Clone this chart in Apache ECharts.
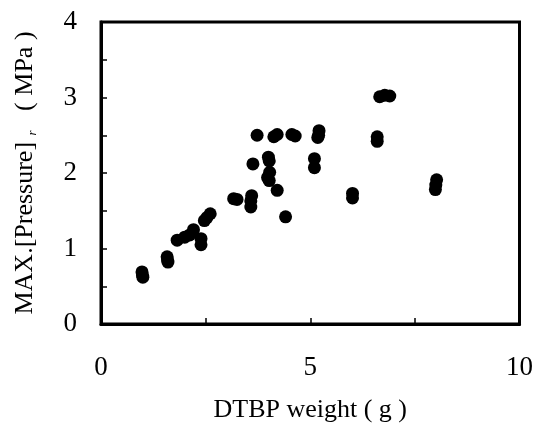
<!DOCTYPE html>
<html>
<head>
<meta charset="utf-8">
<script src="https://cdn.jsdelivr.net/npm/echarts@6/dist/echarts.min.js"></script>
<style>
html,body{margin:0;padding:0;background:#fff;}
#chart{width:536px;height:428px;}
</style>
</head>
<body>
<div id="chart"></div>
<script>
// DTBP weight (g)
var dtbpWeight = [
  0.98, 0.99, 1.00,
  1.58, 1.59, 1.60,
  1.82, 2.00, 2.12, 2.21,
  2.39, 2.39,
  2.47, 2.53, 2.61,
  3.17, 3.25,
  3.60, 3.58, 3.58,
  3.63, 3.73,
  4.00, 4.02, 4.03, 3.98, 4.02,
  4.21, 4.13, 4.21,
  4.41, 4.56, 4.64,
  5.21, 5.20, 5.18,
  5.10, 5.10,
  6.01, 6.01,
  6.60, 6.60,
  6.66, 6.78, 6.90,
  8.02, 8.00, 7.99
];
// MAX.[Pressure]r (MPa)
var maxPressure = [
  0.69, 0.65, 0.62,
  0.89, 0.85, 0.82,
  1.11, 1.15, 1.18, 1.25,
  1.13, 1.05,
  1.37, 1.41, 1.46,
  1.66, 1.65,
  1.70, 1.63, 1.55,
  2.12, 2.50,
  2.21, 2.16, 2.01, 1.94, 1.90,
  1.77, 2.48, 2.51,
  1.42, 2.51, 2.49,
  2.56, 2.50, 2.47,
  2.19, 2.07,
  1.73, 1.67,
  2.48, 2.42,
  3.01, 3.03, 3.02,
  1.91, 1.84, 1.78
];
var xTickLabels = ['0', '5', '10'];
var yTickLabels = ['0', '1', '2', '3', '4'];

var points = dtbpWeight.map(function (x, i) { return [x, maxPressure[i]]; });
var FONT = '"Liberation Serif", "Times New Roman", serif';

var chart = echarts.init(document.getElementById('chart'), null, {renderer: 'canvas'});
chart.setOption({
  animation: false,
  backgroundColor: '#fff',
  grid: {
    left: 101, right: 13, top: 22, bottom: 97,
    show: true, borderColor: '#000', borderWidth: 3, backgroundColor: 'transparent'
  },
  xAxis: {
    type: 'value', min: 0, max: 10, interval: 2.5,
    name: 'DTBP weight ( g )',
    nameLocation: 'middle', nameGap: 73,
    nameTextStyle: {fontFamily: FONT, fontSize: 26, color: '#000'},
    axisLine: {show: true, onZero: false, lineStyle: {color: '#000', width: 3}},
    axisTick: {show: true, inside: true, length: 6, lineStyle: {color: '#000', width: 1.5}},
    splitLine: {show: false},
    axisLabel: {
      margin: 30, fontFamily: FONT, fontSize: 27, color: '#000',
      formatter: function (v) {
        var s = String(v);
        return xTickLabels.indexOf(s) >= 0 ? s : '';
      }
    }
  },
  yAxis: {
    type: 'value', min: 0, max: 4, interval: 0.5,
    name: '{m|MAX.[Pressure]}{s|  r}{m|   ( MPa )}',
    nameLocation: 'middle', nameGap: 62, nameRotate: 90,
    nameTextStyle: {
      fontFamily: FONT, fontSize: 26, color: '#000',
      rich: {
        m: {fontFamily: FONT, fontSize: 26, color: '#000', lineHeight: 28},
        s: {fontFamily: FONT, fontSize: 13, fontStyle: 'italic', color: '#000', lineHeight: 28, verticalAlign: 'bottom'}
      }
    },
    axisLine: {show: true, lineStyle: {color: '#000', width: 3}},
    axisTick: {show: true, inside: true, length: 6, lineStyle: {color: '#000', width: 1.5}},
    splitLine: {show: false},
    axisLabel: {
      margin: 24, fontFamily: FONT, fontSize: 27, color: '#000',
      formatter: function (v) {
        var s = String(v);
        return yTickLabels.indexOf(s) >= 0 ? s : '';
      }
    }
  },
  series: [{
    type: 'scatter',
    data: points,
    symbol: 'circle',
    symbolSize: 13,
    itemStyle: {color: '#000', opacity: 1}
  }]
});
</script>
</body>
</html>
